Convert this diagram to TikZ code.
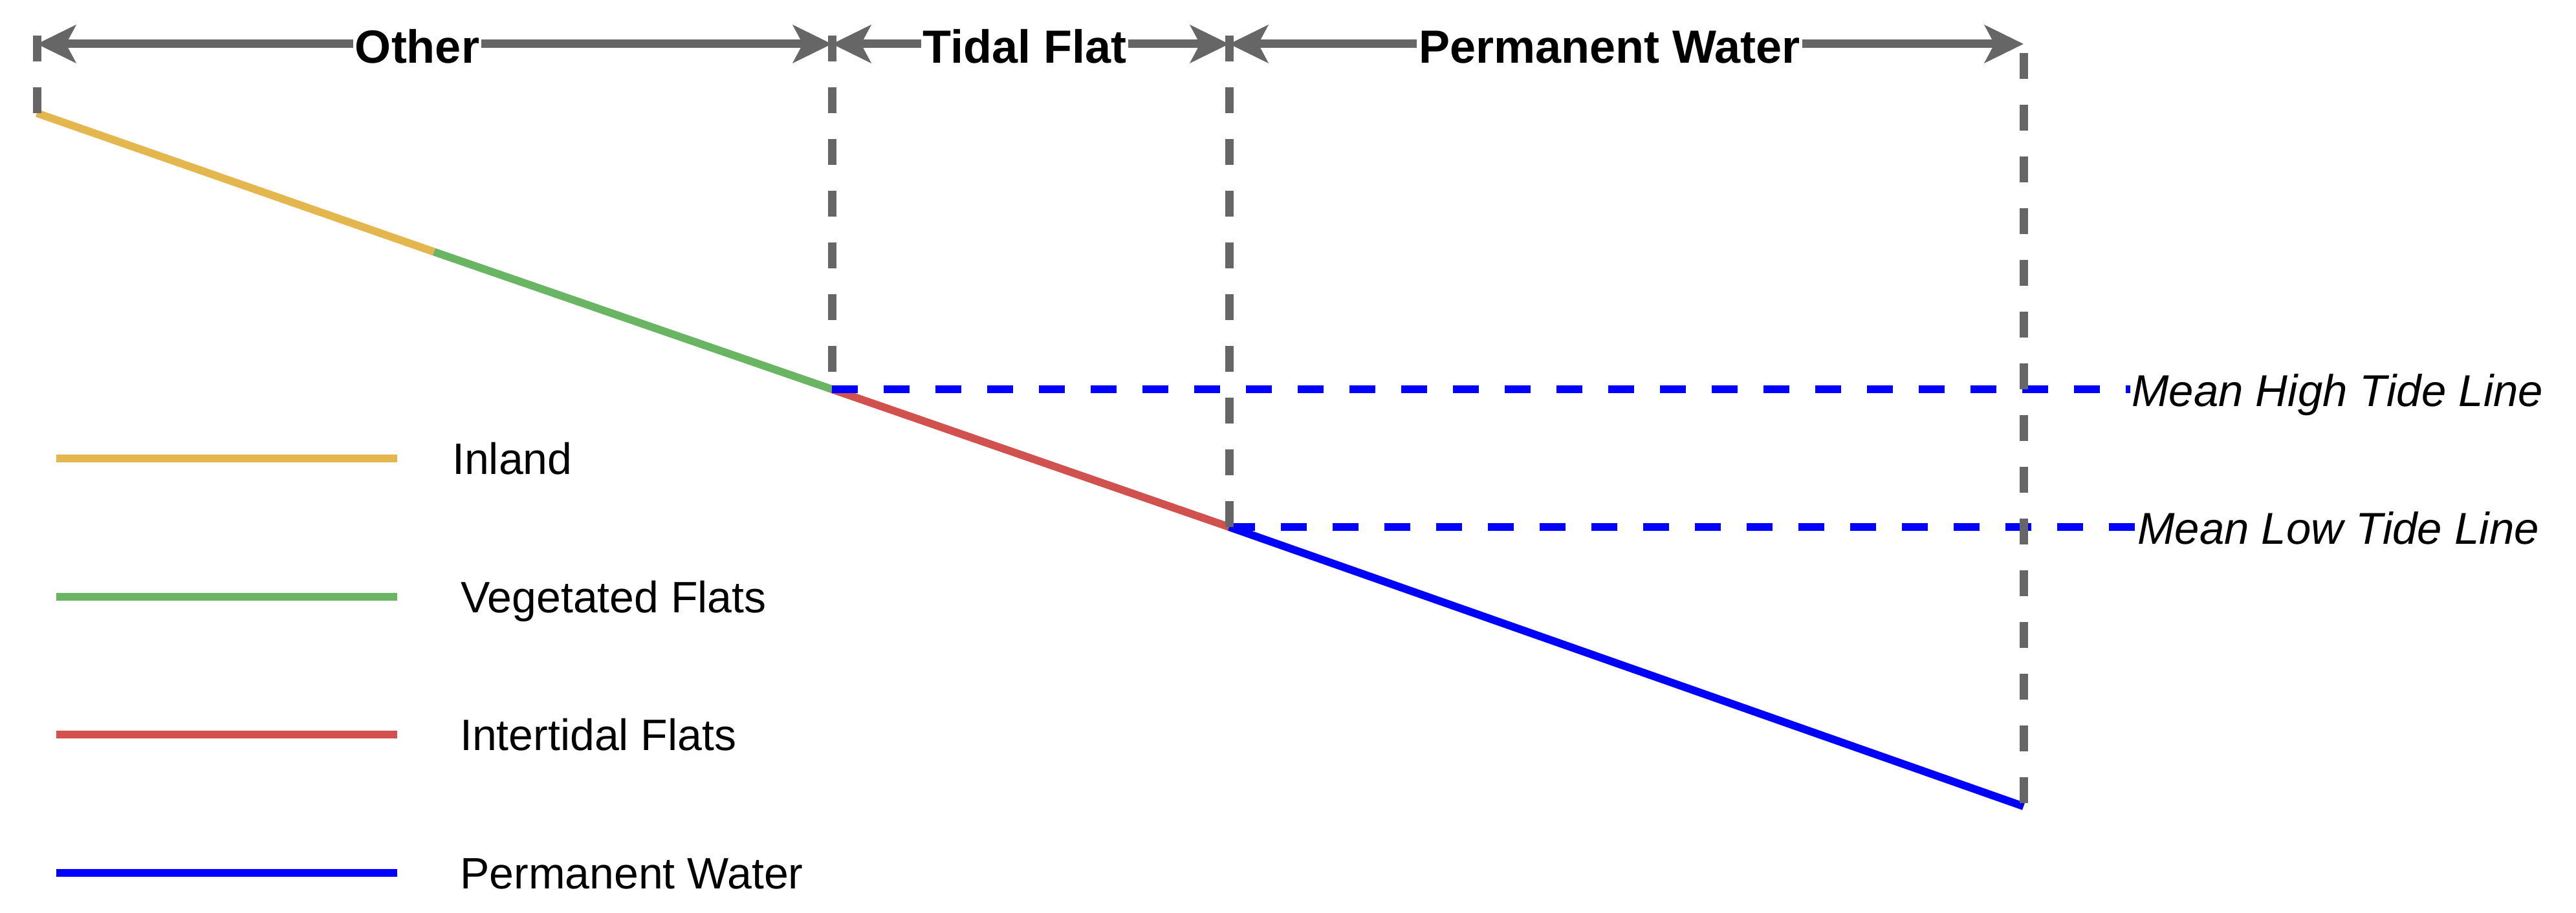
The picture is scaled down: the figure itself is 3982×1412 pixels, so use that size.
\documentclass[tikz,border=0pt]{standalone}
\usepackage{fontspec}
\setmainfont{Liberation Sans}
\usetikzlibrary{arrows.meta}
\definecolor{gline}{HTML}{666666}
\definecolor{cinland}{HTML}{E3B64E}
\definecolor{cveg}{HTML}{6AB563}
\definecolor{cinter}{HTML}{D1514E}
\definecolor{cwater}{HTML}{0000FF}
\tikzset{
  span/.style={draw=gline, line width=13pt, {Stealth[length=60pt,width=58pt,inset=15pt]}-{Stealth[length=60pt,width=58pt,inset=15pt]}},
  guide/.style={draw=gline, line width=13pt, dash pattern=on 40pt off 40pt},
  tide/.style={draw=cwater, line width=12pt, dash pattern=on 40pt off 40pt},
  slope/.style={line width=12pt},
  toplabel/.style={fill=white, inner xsep=3pt, inner ysep=3pt, anchor=base, font=\fontsize{72}{86}\selectfont\bfseries},
  tidelabel/.style={anchor=base west, inner sep=0pt, font=\fontsize{69}{82}\selectfont\itshape},
  leglabel/.style={anchor=base west, inner sep=0pt, font=\fontsize{68}{80}\selectfont}
}
\begin{document}
\begin{tikzpicture}[x=1pt,y=-1pt]
\useasboundingbox (0,0) rectangle (3982,1412);
% key points
\coordinate (t0) at (57,68);
\coordinate (t1) at (1286,68);
\coordinate (t2) at (1900,68);
\coordinate (t3) at (3128,68);
\coordinate (g0) at (57,55);
\coordinate (g1) at (1286,55);
\coordinate (g2) at (1900,55);
\coordinate (g3) at (3128,82);
\coordinate (s0) at (57,175);
\coordinate (sm) at (671,389.5);
\coordinate (s1) at (1286,602);
\coordinate (s2) at (1900,815);
\coordinate (s3) at (3128,1247);
\coordinate (h1) at (3293,602);
\coordinate (l1) at (3300,815);
% slope
\draw[slope, cinland] (s0) -- (sm);
\draw[slope, cveg] (sm) -- (s1);
\draw[slope, cinter] (s1) -- (s2);
\draw[slope, cwater] (s2) -- (s3);
% tide lines
\draw[tide] (s1) -- (h1);
\draw[tide] (s2) -- (l1);
% vertical guides
\draw[guide] (g0) -- (s0);
\draw[guide] (g1) -- (s1);
\draw[guide] (g2) -- (s2);
\draw[guide] (g3) -- (s3);
% spans
\draw[span] (t0) -- (t1);
\draw[span] (t1) -- (t2);
\draw[span] (t2) -- (t3);
\node[toplabel] (lo) at (645,98) {Other};
\node[toplabel] (lt) at (1584,98) {Tidal Flat};
\node[toplabel] (lp) at (2488,98) {Permanent Water};
% tide labels
\node[tidelabel] (mh) at (3295,628) {Mean High Tide Line};
\node[tidelabel] (ml) at (3304,841) {Mean Low Tide Line};
% legend
\coordinate (k1a) at (87,709); \coordinate (k1b) at (614,709);
\coordinate (k2a) at (87,923); \coordinate (k2b) at (614,923);
\coordinate (k3a) at (87,1136); \coordinate (k3b) at (614,1136);
\coordinate (k4a) at (87,1350); \coordinate (k4b) at (614,1350);
\draw[slope, cinland] (k1a) -- (k1b);
\draw[slope, cveg] (k2a) -- (k2b);
\draw[slope, cinter] (k3a) -- (k3b);
\draw[slope, cwater] (k4a) -- (k4b);
\node[leglabel] (n1) at (699,733) {Inland};
\node[leglabel] (n2) at (712,947) {Vegetated Flats};
\node[leglabel] (n3) at (711,1160) {Intertidal Flats};
\node[leglabel] (n4) at (711,1374) {Permanent Water};
\end{tikzpicture}
\end{document}
